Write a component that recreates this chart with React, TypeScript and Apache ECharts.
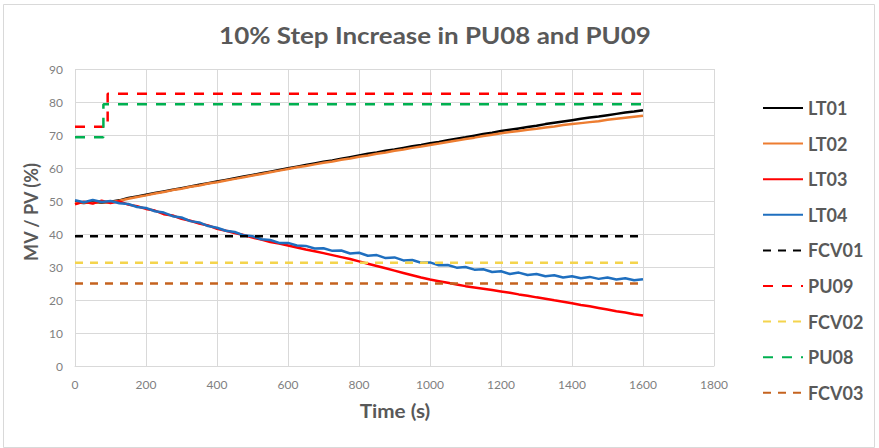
import React, { useEffect, useRef } from "react";
import * as echarts from "echarts";

const TIME = [0, 25, 50, 75, 100, 125, 150, 175, 200, 225, 250, 275, 300, 325, 350, 375, 400, 425, 450, 475, 500, 525, 550, 575, 600, 625, 650, 675, 700, 725, 750, 775, 800, 825, 850, 875, 900, 925, 950, 975, 1000, 1025, 1050, 1075, 1100, 1125, 1150, 1175, 1200, 1225, 1250, 1275, 1300, 1325, 1350, 1375, 1400, 1425, 1450, 1475, 1500, 1525, 1550, 1575, 1600];

const LT01 = [49.6, 49.4, 49.7, 49.5, 49.8, 50.2, 50.9, 51.4, 51.9, 52.4, 52.9, 53.4, 53.9, 54.4, 54.9, 55.4, 55.9, 56.4, 56.9, 57.4, 57.9, 58.4, 58.9, 59.4, 59.9, 60.4, 60.9, 61.4, 61.9, 62.3, 62.8, 63.3, 63.8, 64.3, 64.7, 65.2, 65.6, 66.1, 66.6, 67.0, 67.5, 67.9, 68.4, 68.9, 69.3, 69.8, 70.3, 70.7, 71.2, 71.6, 72.0, 72.4, 72.8, 73.3, 73.7, 74.1, 74.5, 74.9, 75.3, 75.6, 76.0, 76.4, 76.8, 77.1, 77.5];

const LT02 = [49.3, 49.6, 49.4, 49.7, 49.6, 50.1, 50.7, 51.2, 51.7, 52.3, 52.7, 53.3, 53.7, 54.3, 54.7, 55.3, 55.7, 56.2, 56.7, 57.2, 57.7, 58.2, 58.7, 59.2, 59.7, 60.2, 60.6, 61.1, 61.6, 62.0, 62.5, 62.9, 63.4, 63.8, 64.3, 64.7, 65.2, 65.6, 66.1, 66.5, 67.0, 67.4, 67.9, 68.3, 68.8, 69.2, 69.7, 70.1, 70.5, 70.9, 71.2, 71.6, 71.9, 72.3, 72.6, 73.0, 73.3, 73.6, 73.9, 74.2, 74.6, 74.9, 75.2, 75.5, 75.8];

const LT03 = [49.0, 49.8, 49.2, 50.1, 49.4, 49.9, 48.9, 48.4, 47.6, 47.1, 46.0, 45.6, 44.6, 44.0, 43.2, 42.6, 41.6, 41.0, 40.3, 39.7, 38.9, 38.3, 37.6, 37.1, 36.5, 35.9, 35.3, 34.8, 34.2, 33.6, 33.0, 32.4, 31.7, 31.0, 30.3, 29.6, 28.9, 28.2, 27.5, 26.8, 26.2, 25.7, 25.2, 24.7, 24.2, 23.8, 23.4, 23.0, 22.6, 22.2, 21.7, 21.3, 20.8, 20.4, 19.9, 19.5, 19.0, 18.5, 18.1, 17.6, 17.1, 16.6, 16.2, 15.7, 15.3];

const LT04 = [50.2, 49.6, 50.3, 49.7, 50.0, 49.3, 49.1, 48.2, 47.9, 46.9, 46.5, 45.4, 45.0, 43.9, 43.5, 42.4, 41.9, 41.0, 40.6, 39.6, 39.3, 38.4, 38.2, 37.3, 37.3, 36.5, 36.4, 35.6, 35.7, 34.9, 35.0, 34.1, 34.3, 33.4, 33.6, 32.7, 32.9, 32.0, 32.1, 31.3, 31.4, 30.5, 30.6, 29.8, 30.0, 29.2, 29.3, 28.5, 28.7, 27.9, 28.3, 27.6, 27.9, 27.2, 27.5, 26.8, 27.2, 26.6, 27.0, 26.4, 26.8, 26.2, 26.6, 26.0, 26.3];

const FCV01 = [[0, 39.3], [1600, 39.3]];
const PU09 = [[0, 72.5], [92, 72.5], [92, 82.5], [1600, 82.5]];
const FCV02 = [[0, 31.3], [1600, 31.3]];
const PU08 = [[0, 69.3], [80, 69.3], [80, 79.3], [1600, 79.3]];
const FCV03 = [[0, 25.0], [1600, 25.0]];

const X_TICKS = { min: 0, max: 1800, interval: 200 };
const Y_TICKS = { min: 0, max: 90, interval: 10 };

const TITLE = "10% Step Increase in PU08 and PU09";
const X_NAME = "Time (s)";
const Y_NAME = "MV / PV (%)";

const FONT = "Lato, 'Open Sans', sans-serif";
const GRAY = "#595959";

function pair(vals: number[]) {
  return vals.map((v, i) => [TIME[i], v]);
}

export default function App() {
  const ref = useRef<HTMLDivElement>(null);
  useEffect(() => {
    document.body.style.margin = "0";
    const chart = echarts.init(ref.current!, null, { renderer: "svg" });
    const mk = (name: string, data: number[][], color: string, type: any) => ({
      name, type: "line", data, symbol: "none", showSymbol: false,
      lineStyle: { color, width: 2.5, type }, itemStyle: { color },
    });
    chart.setOption({
      animation: false,
      backgroundColor: "#ffffff",
      grid: { left: 75, right: 165, top: 69, bottom: 82, containLabel: false },
      legend: {
        orient: "vertical", left: 757, top: 94, itemWidth: 40, itemHeight: 14, itemGap: 17.6,
        itemStyle: { opacity: 0 },
        textStyle: { fontFamily: FONT, fontSize: 18, fontWeight: "bold", color: GRAY, lineHeight: 16 },
        data: ["LT01", "LT02", "LT03", "LT04", "FCV01", "PU09", "FCV02", "PU08", "FCV03"],
      },
      xAxis: {
        type: "value", ...X_TICKS,
        axisLine: { show: true, lineStyle: { color: "#d9d9d9", width: 1 } },
        axisTick: { show: false },
        axisLabel: { color: "#7f7f7f", fontFamily: FONT, fontSize: 12, margin: 12, formatter: (v: number) => String(v) },
        splitLine: { show: true, lineStyle: { color: "#d9d9d9", width: 1 } },
      },
      yAxis: {
        type: "value", ...Y_TICKS,
        axisLine: { show: false },
        axisTick: { show: false },
        axisLabel: { color: "#7f7f7f", fontFamily: FONT, fontSize: 12, margin: 12 },
        splitLine: { show: true, lineStyle: { color: "#d9d9d9", width: 1 } },
      },
      graphic: [
        {
          type: "rect", left: 1, top: 2, silent: true, z: -10,
          shape: { width: 871, height: 443 },
          style: { fill: "none", stroke: "#d9d9d9", lineWidth: 1 },
        },
        {
          type: "text", x: 435, y: 35, scaleX: 1.18, silent: true,
          style: { text: TITLE, fill: GRAY, font: `bold 22px ${FONT}`, textAlign: "center", textVerticalAlign: "middle" },
        },
        {
          type: "text", x: 395, y: 411, scaleX: 1.15, silent: true,
          style: { text: X_NAME, fill: GRAY, font: `bold 18px ${FONT}`, textAlign: "center", textVerticalAlign: "middle" },
        },
        {
          type: "text", x: 31, y: 212, rotation: Math.PI / 2, silent: true,
          style: { text: Y_NAME, fill: GRAY, font: `bold 18px ${FONT}`, textAlign: "center", textVerticalAlign: "middle" },
        },
      ],
      series: [
        mk("LT01", pair(LT01), "#000000", "solid"),
        mk("LT02", pair(LT02), "#ED7D31", "solid"),
        mk("LT03", pair(LT03), "#FF0000", "solid"),
        mk("LT04", pair(LT04), "#1F6FBF", "solid"),
        mk("FCV01", FCV01, "#000000", [8, 7]),
        mk("PU09", PU09, "#FF0000", [10, 9]),
        mk("FCV02", FCV02, "#F4D44D", [8, 7]),
        mk("PU08", PU08, "#00B050", [10, 9]),
        mk("FCV03", FCV03, "#C5631F", [8, 7]),
      ],
    });
    return () => chart.dispose();
  }, []);
  return <div ref={ref} style={{ position: "fixed", left: 0, top: 0, width: 879, height: 448 }} />;
}
